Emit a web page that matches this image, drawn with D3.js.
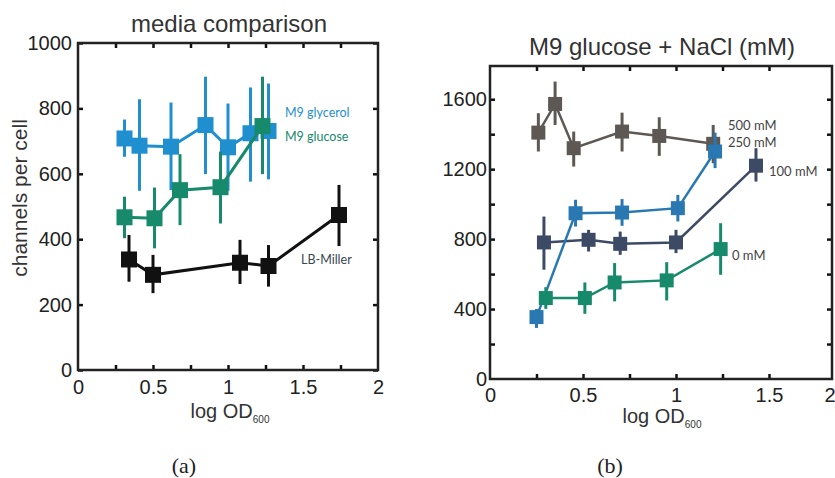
<!DOCTYPE html>
<html>
<head>
<meta charset="utf-8">
<script src="https://cdn.jsdelivr.net/npm/d3@7"></script>
<style>
  body { margin: 0; background: #fff; }
  svg { display: block; }
  .tick text { font-family: "Liberation Sans", Arial, sans-serif; fill: #222; }
</style>
</head>
<body>
<div id="chart"></div>
<script>
// ---- panel (a): media comparison ----
var glycerolX  = [0.31, 0.41, 0.62, 0.85, 1.00, 1.15, 1.27];
var glycerolY  = [708, 686, 683, 749, 681, 724, 731];
var glycerolLo = [652, 548, 550, 599, 548, 576, 583];
var glycerolHi = [766, 828, 818, 897, 815, 864, 876];

var glucoseX  = [0.31, 0.51, 0.68, 0.95, 1.23];
var glucoseY  = [467, 464, 550, 559, 746];
var glucoseLo = [403, 372, 443, 448, 599];
var glucoseHi = [530, 558, 660, 668, 897];

var lbX  = [0.34, 0.50, 1.08, 1.27, 1.74];
var lbY  = [338, 291, 328, 318, 474];
var lbLo = [270, 235, 263, 255, 379];
var lbHi = [413, 352, 398, 382, 566];

// ---- panel (b): M9 glucose + NaCl ----
var nacl500X  = [0.26, 0.35, 0.45, 0.71, 0.91, 1.20];
var nacl500Y  = [1409, 1573, 1320, 1415, 1390, 1345];
var nacl500Lo = [1301, 1453, 1215, 1301, 1276, 1234];
var nacl500Hi = [1520, 1701, 1415, 1523, 1497, 1453];

var nacl250X  = [0.25, 0.46, 0.71, 1.01, 1.21];
var nacl250Y  = [354, 948, 952, 977, 1301];
var nacl250Lo = [292, 872, 876, 901, 1206];
var nacl250Hi = [400, 1025, 1029, 1053, 1409];

var nacl100X  = [0.29, 0.53, 0.70, 1.00, 1.43];
var nacl100Y  = [781, 796, 773, 781, 1220];
var nacl100Lo = [625, 729, 710, 720, 1129];
var nacl100Hi = [929, 853, 843, 853, 1320];

var nacl0X  = [0.30, 0.51, 0.67, 0.95, 1.24];
var nacl0Y  = [463, 463, 552, 564, 743];
var nacl0Lo = [401, 373, 444, 449, 596];
var nacl0Hi = [525, 552, 663, 668, 891];

// tick values
var xLabelsA = [0, 0.5, 1, 1.5, 2];
var xMinorA  = [0.25, 0.5, 0.75, 1, 1.25, 1.5, 1.75];
var yLabelsA = [0, 200, 400, 600, 800, 1000];
var xLabelsB = [0, 0.5, 1, 1.5, 2];
var xMinorB  = [0.25, 0.5, 0.75, 1, 1.25, 1.5];
var yLabelsB = [0, 400, 800, 1200, 1600];
var yMinorB  = [200, 400, 600, 800, 1000, 1200, 1400, 1600];

var zip = function(xs, ys, lo, hi) {
    return xs.map(function(d, i) { return {x: d, y: ys[i], lo: lo[i], hi: hi[i]}; });
};

var svg = d3.select('#chart').append('svg')
    .attr('width', 835).attr('height', 478);

var SANS = '"Liberation Sans", Arial, sans-serif';

function drawFrame(g, x, y, opt) {
    var x0 = x.range()[0], x1 = x.range()[x.range().length - 1];
    var y0 = y.range()[0], y1 = y.range()[1];

    // inward minor ticks on all four sides
    g.append('g').attr('transform', 'translate(0,' + y0 + ')')
        .call(d3.axisBottom(x).tickValues(opt.xMinor).tickSize(-5).tickFormat(''));
    g.append('g').attr('transform', 'translate(0,' + y1 + ')')
        .call(d3.axisTop(x).tickValues(opt.xMinor).tickSize(-5).tickFormat(''));
    g.append('g').attr('transform', 'translate(' + x0 + ',0)')
        .call(d3.axisLeft(y).tickValues(opt.yMinor).tickSize(-5).tickFormat(''));
    g.append('g').attr('transform', 'translate(' + x1 + ',0)')
        .call(d3.axisRight(y).tickValues(opt.yMinor).tickSize(-5).tickFormat(''));
    g.selectAll('.domain').remove();
    g.selectAll('.tick line').attr('stroke', '#111').attr('stroke-width', 2.5);

    // tick labels
    var xl = g.append('g').attr('transform', 'translate(0,' + y0 + ')')
        .call(d3.axisBottom(x).tickValues(opt.xLabels).tickSize(0).tickPadding(opt.xPad)
              .tickFormat(d3.format('')));
    var yl = g.append('g').attr('transform', 'translate(' + x0 + ',0)')
        .call(d3.axisLeft(y).tickValues(opt.yLabels).tickSize(0).tickPadding(opt.yPad)
              .tickFormat(d3.format('d')));
    xl.select('.domain').remove();
    yl.select('.domain').remove();
    xl.selectAll('text').style('font-size', opt.fs + 'px');
    yl.selectAll('text').style('font-size', opt.fs + 'px');

    // box
    g.append('rect')
        .attr('x', x0).attr('y', y1)
        .attr('width', x1 - x0).attr('height', y0 - y1)
        .attr('fill', 'none').attr('stroke', '#222').attr('stroke-width', 2.5);
    return xl;
}

function drawSeries(g, x, y, data, color, sz, lw) {
    var line = d3.line().x(function(d) { return x(d.x); }).y(function(d) { return y(d.y); });
    var s = g.append('g');
    s.selectAll('.err').data(data).enter().append('line')
        .attr('x1', function(d) { return x(d.x); }).attr('x2', function(d) { return x(d.x); })
        .attr('y1', function(d) { return y(d.lo); }).attr('y2', function(d) { return y(d.hi); })
        .attr('stroke', color).attr('stroke-width', 3);
    s.append('path').datum(data).attr('d', line)
        .attr('fill', 'none').attr('stroke', color).attr('stroke-width', lw);
    s.selectAll('.pt').data(data).enter().append('rect')
        .attr('x', function(d) { return x(d.x) - sz / 2; })
        .attr('y', function(d) { return y(d.y) - sz / 2; })
        .attr('width', sz).attr('height', sz)
        .attr('fill', color);
}

function label(g, txt, px, py, color, size, font) {
    g.append('text').attr('x', px).attr('y', py).attr('dy', '0.35em')
        .style('font-family', font || '"Lato", "Open Sans", sans-serif')
        .style('font-size', size + 'px').attr('fill', color).text(txt);
}

function xTitle(g, cx, cy) {
    var t = g.append('text').attr('x', cx).attr('y', cy).attr('dy', '0.35em')
        .attr('text-anchor', 'middle')
        .style('font-family', SANS).style('font-size', '20px').attr('fill', '#333');
    t.append('tspan').text('log OD');
    t.append('tspan').attr('dy', '5').style('font-size', '10px').text('600');
}

// ================= panel (a) =================
var gA = svg.append('g');
var xA = d3.scaleLinear().domain([0, 2]).range([78, 378]);
var yA = d3.scaleLinear().domain([0, 1000]).range([370, 43]);

drawFrame(gA, xA, yA, {xMinor: xMinorA, yMinor: yLabelsA, xLabels: xLabelsA,
                       yLabels: yLabelsA, xPad: 10, yPad: 6, fs: 20});

drawSeries(gA, xA, yA, zip(glycerolX, glycerolY, glycerolLo, glycerolHi), '#1f8fd0', 16, 3);
drawSeries(gA, xA, yA, zip(glucoseX, glucoseY, glucoseLo, glucoseHi), '#178a6c', 16, 3);
drawSeries(gA, xA, yA, zip(lbX, lbY, lbLo, lbHi), '#111', 16, 3);

label(gA, 'M9 glycerol', 285, 113, '#1f8fd0', 12.5);
label(gA, 'M9 glucose', 285, 137, '#178a6c', 12.5);
label(gA, 'LB-Miller', 301, 260, '#3a4750', 12.5);

gA.append('text').attr('x', 229).attr('y', 24).attr('dy', '0.35em')
    .attr('text-anchor', 'middle').style('font-family', SANS)
    .style('font-size', '24px').attr('fill', '#333').text('media comparison');
gA.append('text').attr('transform', 'translate(20,198) rotate(-90)').attr('dy', '0.35em')
    .attr('text-anchor', 'middle').style('font-family', SANS)
    .style('font-size', '21px').attr('fill', '#333').text('channels per cell');
xTitle(gA, 230, 411);

// ================= panel (b) =================
var gB = svg.append('g');
// the right part of this axis is squeezed in the figure, so a polylinear scale
var xB = d3.scaleLinear().domain([0, 1.5, 2]).range([490, 769, 832]);
var yB = d3.scaleLinear().domain([0, 1790]).range([379, 66]);

var xlB = drawFrame(gB, xB, yB, {xMinor: xMinorB, yMinor: yMinorB, xLabels: xLabelsB,
                                 yLabels: yLabelsB, xPad: 9, yPad: 3, fs: 20});
// last label sits on the page edge: keep it inside
xlB.selectAll('.tick').filter(function(d) { return d === 2; })
    .select('text').attr('text-anchor', 'end').attr('x', 3);

drawSeries(gB, xB, yB, zip(nacl500X, nacl500Y, nacl500Lo, nacl500Hi), '#5d5853', 14, 2.5);
drawSeries(gB, xB, yB, zip(nacl100X, nacl100Y, nacl100Lo, nacl100Hi), '#3d4a66', 14, 2.5);
drawSeries(gB, xB, yB, zip(nacl250X, nacl250Y, nacl250Lo, nacl250Hi), '#2a78b2', 14, 2.5);
drawSeries(gB, xB, yB, zip(nacl0X, nacl0Y, nacl0Lo, nacl0Hi), '#178a6c', 14, 2.5);

label(gB, '500 mM', 728, 125, '#444', 13);
label(gB, '250 mM', 728, 142, '#444', 13);
label(gB, '100 mM', 769, 171, '#444', 13);
label(gB, '0 mM', 732, 255, '#444', 13);

gB.append('text').attr('x', 662).attr('y', 47).attr('dy', '0.35em')
    .attr('text-anchor', 'middle').style('font-family', SANS)
    .style('font-size', '24px').attr('fill', '#333').text('M9 glucose + NaCl (mM)');
xTitle(gB, 662, 416);

// captions
svg.append('text').attr('x', 184).attr('y', 465).attr('dy', '0.35em')
    .attr('text-anchor', 'middle').style('font-family', '"Liberation Serif", serif')
    .style('font-size', '22px').attr('fill', '#222').text('(a)');
svg.append('text').attr('x', 610).attr('y', 465).attr('dy', '0.35em')
    .attr('text-anchor', 'middle').style('font-family', '"Liberation Serif", serif')
    .style('font-size', '22px').attr('fill', '#222').text('(b)');
</script>
</body>
</html>
